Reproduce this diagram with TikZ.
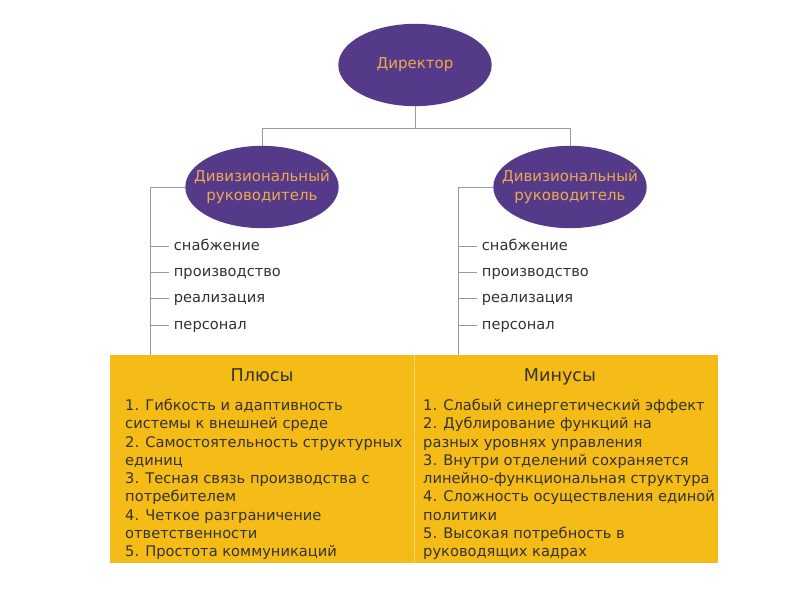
\documentclass[tikz,border=0pt]{standalone}
\usepackage{fontspec}
\setmainfont{DejaVu Sans}
\usepackage{xcolor}
\usepackage{tikz}
\usetikzlibrary{shapes.geometric}
\definecolor{morMenekse}{HTML}{563A8A}
\definecolor{sariTuruncu}{HTML}{ECA852}
\definecolor{kutuSari}{HTML}{F5BB17}
\definecolor{acikSari}{HTML}{F8D773}
\definecolor{cizgiGri}{HTML}{9A9A9A}
\definecolor{yaziGri}{HTML}{333333}

\begin{document}
\begin{tikzpicture}[x=0.03cm,y=-0.03cm,
  oval/.style={ellipse,fill=morMenekse,text=sariTuruncu,inner xsep=-16pt,inner ysep=0pt,
               minimum width=4.6cm,minimum height=2.47cm,align=center,
               font=\fontsize{12.8}{16.5}\selectfont},
  baglanti/.style={draw=cizgiGri,line width=0.6pt},
  madde/.style={anchor=west,inner sep=4pt,text=yaziGri,text height=1.6ex,text depth=0.3ex,
                font=\fontsize{12.5}{14}\selectfont},
  hucre/.style={fill=kutuSari,anchor=north west,inner sep=0pt,
                minimum width=9.12cm,minimum height=6.24cm},
  baslik/.style={text=yaziGri,text height=1.6ex,text depth=0.3ex,
                 font=\fontsize{15}{17}\selectfont},
  liste/.style={anchor=north west,inner sep=0pt,align=left,text=yaziGri,
                font=\fontsize{12.5}{15.6}\selectfont}]
\useasboundingbox (0,0) rectangle (800,600);
\node[oval] (dir) at (415,65) {Директор};
\node[oval] (divL) at (262,187) {Дивизиональный\\руководитель};
\node[oval] (divR) at (570,187) {Дивизиональный\\руководитель};
\draw[baglanti] (dir.south) -- ++(0,22) -| (divL.north);
\draw[baglanti] (dir.south) -- ++(0,22) -| (divR.north);
% plus / minus table
\node[hucre] (plusBox) at (110,355) {};
\node[hucre] (minusBox) at (414,355) {};
\draw[draw=acikSari,line width=1pt] (plusBox.north east) -- (plusBox.south east);
\coordinate (barL) at (150,355);
\coordinate (barR) at (458,355);
\draw[baglanti] (divL.west) -| (barL);
\draw[baglanti] (divR.west) -| (barR);
\foreach \t [count=\i] in {снабжение,производство,реализация,персонал} {
  \node[madde] (L\i) at (169,246+26.3*\i-26.3) {\t};
  \draw[baglanti] (L\i.west -| barL) -- (L\i.west);
  \node[madde] (R\i) at (477,246+26.3*\i-26.3) {\t};
  \draw[baglanti] (R\i.west -| barR) -- (R\i.west);
}
\node[baslik] (plusHead) at (262,377) {Плюсы};
\node[baslik] (minusHead) at (560,377) {Минусы};
\node[liste] (plusList) at (125,399) {1. Гибкость и адаптивность\\
  системы к внешней среде\\
  2. Самостоятельность структурных\\
  единиц\\
  3. Тесная связь производства с\\
  потребителем\\
  4. Четкое разграничение\\
  ответственности\\
  5. Простота коммуникаций};
\node[liste] (minusList) at (423,399) {1. Слабый синергетический эффект\\
  2. Дублирование функций на\\
  разных уровнях управления\\
  3. Внутри отделений сохраняется\\
  линейно-функциональная структура\\
  4. Сложность осуществления единой\\
  политики\\
  5. Высокая потребность в\\
  руководящих кадрах};
\end{tikzpicture}
\end{document}
